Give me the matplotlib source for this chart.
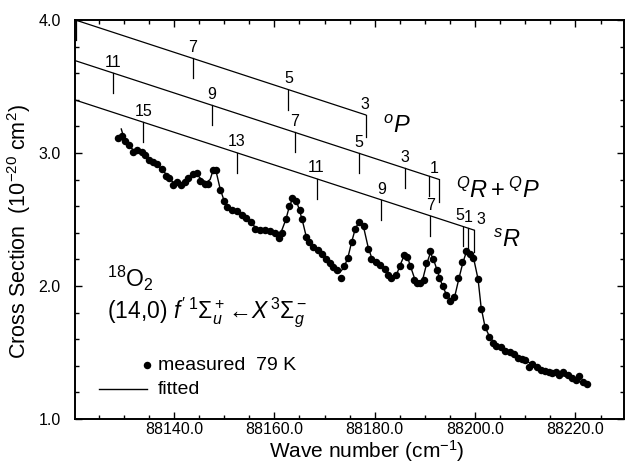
"""18O2 (14,0) f'-X band: measured cross section vs fitted, with rotational branch guides."""

import matplotlib
matplotlib.use("Agg")
import matplotlib.pyplot as plt
import numpy as np
from matplotlib.lines import Line2D
from matplotlib.ticker import MultipleLocator, FormatStrFormatter

plt.rcParams.update({
    "font.family": ["Liberation Sans", "DejaVu Sans"],
    "mathtext.fontset": "custom",
    "mathtext.rm": "Liberation Sans",
    "mathtext.it": "Liberation Sans:italic",
    "mathtext.bf": "Liberation Sans:bold",
})

# measured points (wave number in cm^-1, cross section in 1e-20 cm^2)
meas_x = [
    88128.9, 88129.7, 88130.2, 88131.1, 88131.9, 88132.6, 88133.6, 88134.2, 88135.1, 88135.9,
    88136.7, 88137.6, 88138.5, 88139.1, 88139.9, 88140.7, 88141.3, 88142.2, 88142.8, 88143.7,
    88144.5, 88145.2, 88146.2, 88146.8, 88147.7, 88148.4, 88149.2, 88149.9, 88150.5, 88151.5,
    88152.5, 88153.5, 88154.3, 88155.3, 88156.1, 88157.1, 88158.1, 88159.1, 88160.1, 88161.0,
    88161.6, 88162.3, 88163.0, 88163.6, 88164.3, 88165.1, 88165.6, 88166.3, 88167.0, 88167.8,
    88168.6, 88169.4, 88170.2, 88171.0, 88171.7, 88172.5, 88173.2, 88173.9, 88174.7, 88175.4,
    88176.0, 88176.9, 88177.8, 88178.7, 88179.3, 88180.2, 88181.0, 88182.0, 88182.6, 88183.3,
    88184.3, 88185.0, 88185.8, 88186.4, 88187.0, 88187.8, 88188.4, 88189.1, 88189.8, 88190.3,
    88191.1, 88191.7, 88192.4, 88192.9, 88193.6, 88194.3, 88195.1, 88195.8, 88196.6, 88197.4,
    88198.1, 88198.9, 88199.6, 88200.6, 88201.2, 88202.0, 88202.7, 88203.5, 88204.2, 88205.1,
    88205.9, 88206.9, 88207.7, 88208.5, 88209.4, 88210.0, 88210.7, 88211.4, 88212.3, 88213.1,
    88213.9, 88214.7, 88215.4, 88216.2, 88216.8, 88217.6, 88218.5, 88219.3, 88220.1, 88220.7,
    88221.5, 88222.3,
]
meas_y = [
    3.11, 3.13, 3.09, 3.06, 3.01, 3.02, 3.01, 2.985, 2.95, 2.93,
    2.92, 2.88, 2.83, 2.81, 2.76, 2.78, 2.76, 2.78, 2.81, 2.84,
    2.85, 2.79, 2.77, 2.77, 2.87, 2.87, 2.72, 2.64, 2.59, 2.57,
    2.56, 2.53, 2.51, 2.48, 2.43, 2.42, 2.42, 2.41, 2.40, 2.36,
    2.40, 2.50, 2.60, 2.66, 2.64, 2.57, 2.50, 2.37, 2.33, 2.29,
    2.27, 2.24, 2.20, 2.17, 2.14, 2.12, 2.06, 2.15, 2.21, 2.33,
    2.43, 2.48, 2.45, 2.28, 2.20, 2.18, 2.16, 2.13, 2.08, 2.06,
    2.08, 2.15, 2.23, 2.22, 2.15, 2.045, 2.02, 2.02, 2.045, 2.17,
    2.26, 2.20, 2.12, 2.06, 2.00, 1.93, 1.89, 1.92, 2.06, 2.18,
    2.26, 2.24, 2.21, 2.05, 1.83, 1.69, 1.62, 1.57, 1.55, 1.54,
    1.51, 1.50, 1.49, 1.46, 1.45, 1.44, 1.39, 1.41, 1.39, 1.37,
    1.36, 1.35, 1.345, 1.35, 1.33, 1.35, 1.33, 1.31, 1.29, 1.32,
    1.28, 1.26,
]

# fitted curve
fit_x = [
    88129.5, 88130.2, 88131.1, 88132.0, 88133.5, 88135.0, 88136.5, 88138.0, 88139.5, 88140.5,
    88141.5, 88142.5, 88143.5, 88144.5, 88145.5, 88146.5, 88147.2, 88147.8, 88148.4, 88149.2,
    88150.0, 88150.8, 88152.0, 88154.0, 88155.5, 88156.5, 88158.5, 88160.5, 88161.3, 88162.3,
    88163.0, 88163.7, 88164.3, 88165.0, 88165.6, 88166.3, 88167.5, 88169.0, 88170.5, 88172.0,
    88173.0, 88173.9, 88174.7, 88175.4, 88176.2, 88177.0, 88177.8, 88178.7, 88179.5, 88181.0,
    88182.3, 88183.3, 88184.3, 88185.2, 88185.9, 88186.5, 88187.2, 88188.0, 88188.8, 88189.5,
    88190.3, 88191.1, 88191.8, 88192.6, 88193.5, 88194.5, 88195.2, 88196.0, 88196.8, 88197.6,
    88198.3, 88199.0, 88199.7, 88200.6, 88201.2, 88202.0, 88203.0, 88204.5, 88206.0, 88208.0,
    88210.0, 88212.0, 88214.0, 88216.0, 88218.0, 88220.0, 88222.3,
]
fit_y = [
    3.18, 3.09, 3.05, 3.02, 3.00, 2.96, 2.92, 2.86, 2.79, 2.77,
    2.76, 2.78, 2.82, 2.84, 2.80, 2.78, 2.80, 2.87, 2.86, 2.73,
    2.64, 2.59, 2.56, 2.52, 2.47, 2.43, 2.42, 2.40, 2.40, 2.50,
    2.60, 2.66, 2.65, 2.57, 2.49, 2.38, 2.31, 2.25, 2.19, 2.13,
    2.10, 2.14, 2.22, 2.33, 2.44, 2.48, 2.44, 2.29, 2.20, 2.16,
    2.12, 2.07, 2.08, 2.17, 2.23, 2.22, 2.14, 2.05, 2.02, 2.04,
    2.16, 2.25, 2.19, 2.10, 2.00, 1.92, 1.90, 1.93, 2.06, 2.18,
    2.26, 2.25, 2.21, 2.05, 1.84, 1.69, 1.61, 1.55, 1.51, 1.48,
    1.44, 1.40, 1.36, 1.34, 1.32, 1.29, 1.26,
]

# rotational branch guide lines: (x_start, y_start, x_end, y_end)
op_line = (88120.3, 4.000, 88178.2, 3.286)
q_line = (88120.3, 3.694, 88192.9, 2.800)
sr_line = (88120.3, 3.398, 88199.8, 2.420)

op_pos = [88120.5, 88143.7, 88162.8, 88178.2]
op_lab = ["", "7", "5", "3"]
q_pos = [88127.8, 88147.6, 88164.1, 88176.9, 88186.0, 88190.9, 88192.9]
q_lab = ["11", "9", "7", "5", "3", "", "1"]
sr_pos = [88133.9, 88152.5, 88168.4, 88181.3, 88191.1, 88197.6, 88198.6, 88199.8]
sr_lab = ["15", "13", "11", "9", "7", "5", "1", "3"]


def draw_branch(ax, line, pos, labels, label_dx):
    x0, y0, x1, y1 = line
    ax.plot([x0, x1], [y0, y1], color="black", lw=0.9, clip_on=False)
    for i, (p, lab) in enumerate(zip(pos, labels)):
        yl = np.interp(p, [x0, x1], [y0, y1])
        ln = 0.165 if i == len(pos) - 1 else 0.15
        ax.plot([p, p], [yl, yl - ln], color="black", lw=0.9)
        if lab:
            ax.text(p + label_dx.get(i, 0.0), yl + 0.025, lab, ha="center", va="bottom",
                    fontsize=11.5)


fig = plt.figure(figsize=(6.26, 4.63), dpi=100)
ax = fig.add_axes([0.12, 0.095, 0.877, 0.862])

ax.plot(fit_x, fit_y, color="black", lw=1.0)
ax.plot(meas_x, meas_y, "o", color="black", ms=5.4, mew=0)

draw_branch(ax, op_line, op_pos, op_lab, {3: -0.2})
draw_branch(ax, q_line, q_pos, q_lab, {6: -1.0})
draw_branch(ax, sr_line, sr_pos, sr_lab, {5: -0.7, 6: 0.1, 7: 1.4})

ax.text(88181.6, 3.195, r"$^{o}P$", fontsize=17, ha="left", va="center")
ax.text(88196.1, 2.72, r"$^{Q}R + ^{Q}P$", fontsize=17, ha="left", va="center")
ax.text(88203.6, 2.34, r"$^{s}R$", fontsize=17, ha="left", va="center")

ax.text(0.058, 0.351, r"$^{18}$O$_2$", transform=ax.transAxes, fontsize=16.5,
        ha="left", va="center")
ax.text(0.058, 0.266, r"(14,0) $f'\,^1\Sigma_u^+\!\leftarrow\! X\,^3\Sigma_g^-$",
        transform=ax.transAxes, fontsize=16.5, ha="left", va="center")

# legend drawn by hand to match the original placement
ax.plot([0.131], [0.135], "o", color="black", ms=5.4, mew=0, transform=ax.transAxes)
ax.text(0.151, 0.135, "measured  79 K", transform=ax.transAxes, fontsize=14,
        ha="left", va="center")
ax.add_line(Line2D([0.044, 0.131], [0.075, 0.075], color="black", lw=1.0,
                   transform=ax.transAxes))
ax.text(0.151, 0.075, "fitted", transform=ax.transAxes, fontsize=14,
        ha="left", va="center")

ax.set_xlim(88120.3, 88229.7)
ax.set_ylim(1.0, 4.0)
ax.xaxis.set_major_locator(MultipleLocator(20))
ax.xaxis.set_minor_locator(MultipleLocator(5))
ax.yaxis.set_major_locator(MultipleLocator(1.0))
ax.yaxis.set_minor_locator(MultipleLocator(0.2))
ax.xaxis.set_major_formatter(FormatStrFormatter("%.1f"))
ax.yaxis.set_major_formatter(FormatStrFormatter("%.1f"))
ax.tick_params(which="both", direction="in", top=True, right=True, width=1.0)
ax.tick_params(which="major", length=5, labelsize=11.5)
ax.tick_params(which="minor", length=3)
ax.tick_params(axis="x", which="major", pad=2.5)
ax.tick_params(axis="y", which="major", pad=10.5)
for sp in ax.spines.values():
    sp.set_linewidth(1.4)

ax.set_xlabel(r"Wave number (cm$^{-1}$)", fontsize=15)
ax.set_ylabel(r"Cross Section  (10$^{-20}$ cm$^{2}$)", fontsize=15.5)
ax.xaxis.set_label_coords(0.531, -0.049)
ax.yaxis.set_label_coords(-0.077, 0.47)

fig.savefig("out.png", dpi=100)
